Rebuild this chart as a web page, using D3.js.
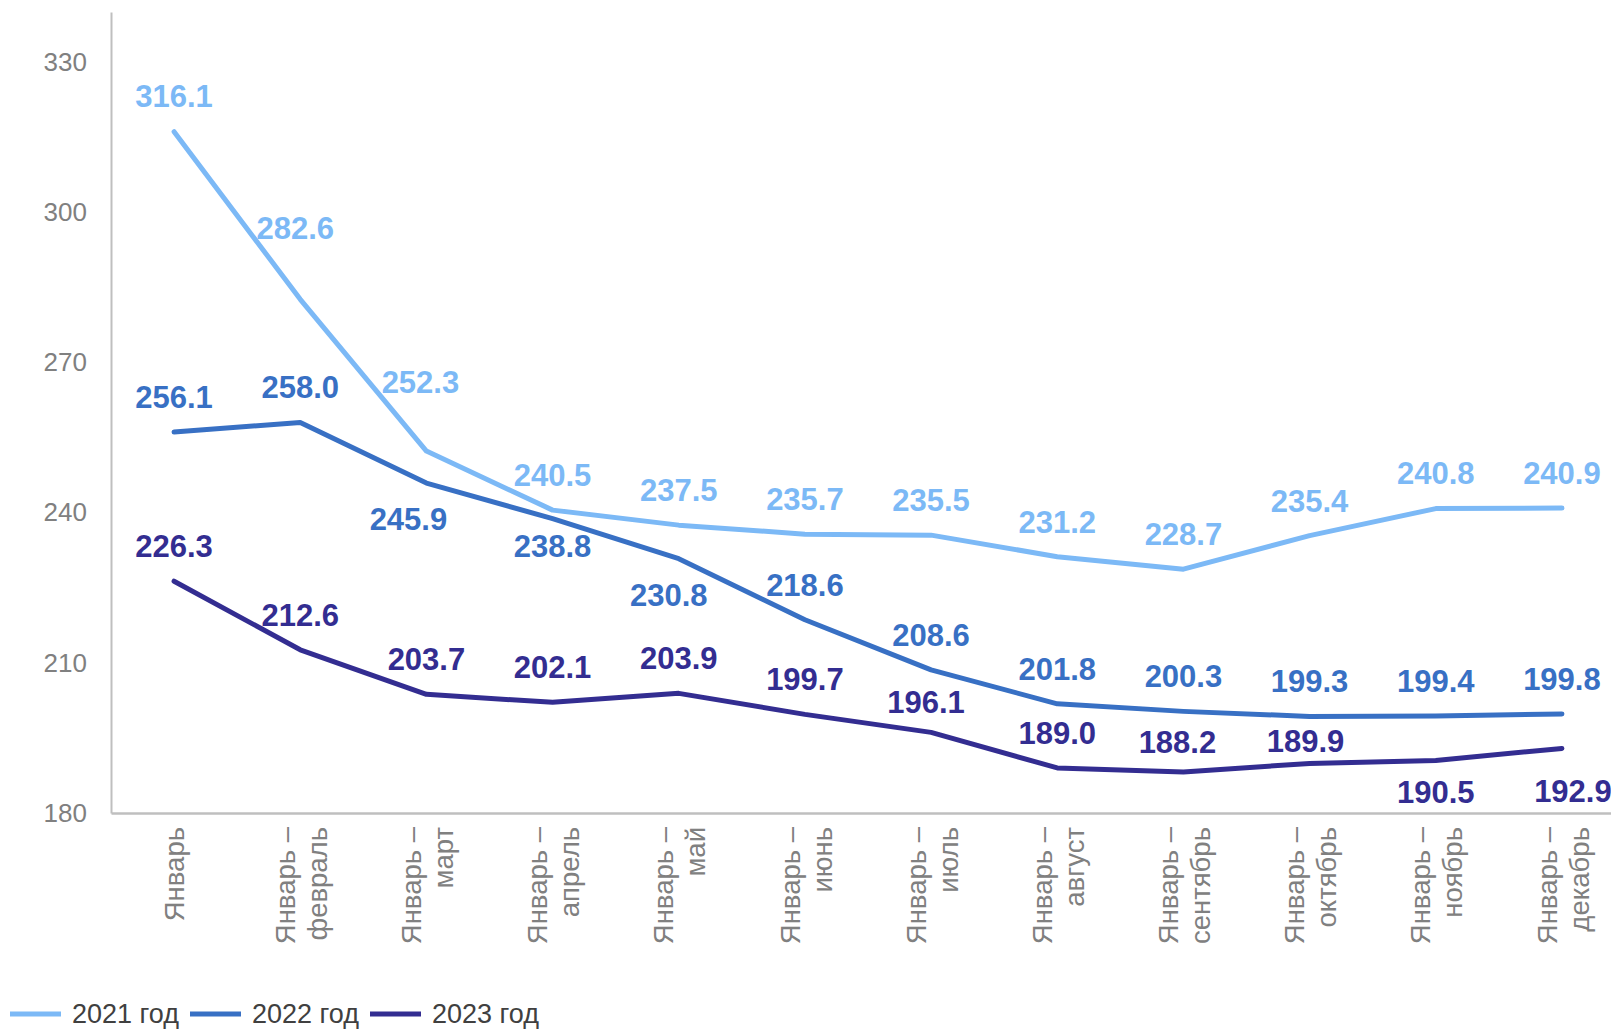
<!DOCTYPE html>
<html><head><meta charset="utf-8">
<script src="https://cdn.jsdelivr.net/npm/d3@7"></script>
<style>body{margin:0;background:#fff;overflow:hidden} svg{display:block}</style>
</head><body><svg id="c" width="1611" height="1030"></svg>
<script>
const categories = ["Январь","Январь – февраль","Январь – март","Январь – апрель","Январь – май","Январь – июнь","Январь – июль","Январь – август","Январь – сентябрь","Январь – октябрь","Январь – ноябрь","Январь – декабрь"];
const seriesNames = ["2021 год","2022 год","2023 год"];
const values2021 = [316.1,282.6,252.3,240.5,237.5,235.7,235.5,231.2,228.7,235.4,240.8,240.9];
const values2022 = [256.1,258.0,245.9,238.8,230.8,218.6,208.6,201.8,200.3,199.3,199.4,199.8];
const values2023 = [226.3,212.6,203.7,202.1,203.9,199.7,196.1,189.0,188.2,189.9,190.5,192.9];
const yTicks = [180,210,240,270,300,330];

// layout: label offsets [dx, dy] relative to point
const D = [0,-35];
const labelOff2021 = [D,[-5,-71],[-6,-69],D,D,D,D,D,D,D,D,D];
const labelOff2022 = [D,D,[-18,36],[0,28],[-10,36],D,D,D,D,D,D,D];
const labelOff2023 = [D,D,D,D,D,D,[-5,-30],D,[-6,-30],[-4,-22],[0,32],[11,43]];
const colors = ["#7cb9f6","#3870c4","#332d91"];

const svg = d3.select("#c");
const FONT = "'Liberation Sans', Arial, sans-serif";
const x = d3.scaleBand().domain(categories).range([111, 1625]).padding(0);
const y = d3.scaleLinear().domain([180, 340]).range([813, 12]);
const cx = c => x(c) + x.bandwidth()/2;

// Y axis
const ya = svg.append("g").attr("transform","translate(111,0)")
  .call(d3.axisLeft(y).tickValues(yTicks).tickSize(0).tickPadding(24).tickSizeOuter(0));
ya.select(".domain").attr("stroke","#bfbfbf").attr("stroke-width",2);
ya.selectAll("text").attr("font-family",FONT).attr("font-size",26).attr("fill","#808080");

// X axis
const xa = svg.append("g").attr("transform","translate(0,813)")
  .call(d3.axisBottom(x).tickSize(0).tickSizeOuter(0).tickFormat(""));
xa.select(".domain").attr("stroke","#bfbfbf").attr("stroke-width",2.5);
xa.selectAll(".tick").each(function(c){
  const g = d3.select(this);
  g.selectAll("text").remove();
  const parts = c.split(" – ");
  const lines = parts.length > 1 ? [parts[0] + " –", parts[1]] : [parts[0]];
  const offs = lines.length > 1 ? [-15, 17] : [0];
  lines.forEach((ln, i) => {
    g.append("text")
      .attr("transform", `translate(${offs[i]},14) rotate(-90)`)
      .attr("text-anchor","end")
      .attr("dy","0.35em")
      .attr("font-family",FONT).attr("font-size",27.5).attr("fill","#808080")
      .text(ln);
  });
});

const series = [
  {name: seriesNames[0], values: values2021, offs: labelOff2021, color: colors[0]},
  {name: seriesNames[1], values: values2022, offs: labelOff2022, color: colors[1]},
  {name: seriesNames[2], values: values2023, offs: labelOff2023, color: colors[2]}
];
const line = d3.line().x((d,i) => cx(categories[i])).y(d => y(d));

series.forEach(s => {
  svg.append("path").datum(s.values)
    .attr("d", line).attr("fill","none")
    .attr("stroke", s.color).attr("stroke-width",5)
    .attr("stroke-linejoin","round").attr("stroke-linecap","round");
});
series.forEach(s => {
  svg.append("g").selectAll("text").data(s.values).join("text")
    .attr("x", (d,i) => cx(categories[i]) + s.offs[i][0])
    .attr("y", (d,i) => y(d) + s.offs[i][1])
    .attr("dy","0.35em")
    .attr("text-anchor","middle")
    .attr("font-family",FONT).attr("font-size",31).attr("font-weight","bold")
    .attr("fill", s.color)
    .text(d => d.toFixed(1));
});

// Legend
const legX = [10, 190, 370];
const lg = svg.append("g");
series.forEach((s, i) => {
  lg.append("line").attr("x1", legX[i]).attr("x2", legX[i] + 51)
    .attr("y1", 1014).attr("y2", 1014)
    .attr("stroke", s.color).attr("stroke-width", 5);
  lg.append("text").attr("x", legX[i] + 62).attr("y", 1014).attr("dy","0.35em")
    .attr("font-family",FONT).attr("font-size",27).attr("fill","#404040")
    .text(s.name);
});
</script></body></html>
